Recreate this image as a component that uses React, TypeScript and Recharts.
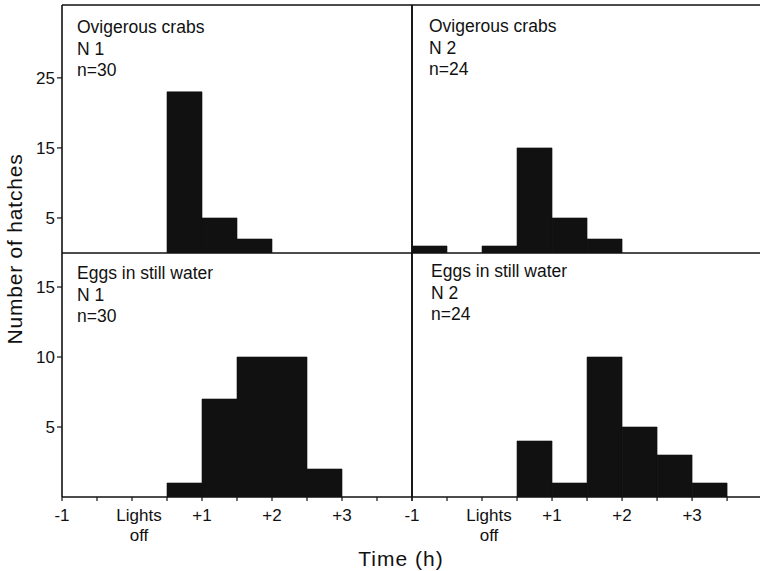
import React from 'react';
import { BarChart, Bar, XAxis, YAxis, ReferenceLine } from 'recharts';

// half-hour bins, start of each bin in hours relative to lights off
const binStarts = [-1, -0.5, 0, 0.5, 1, 1.5, 2, 2.5, 3, 3.5];
const ovigerousN1 = [0, 0, 0, 23, 5, 2, 0, 0, 0, 0];
const ovigerousN2 = [1, 0, 1, 15, 5, 2, 0, 0, 0, 0];
const stillWaterN1 = [0, 0, 0, 1, 7, 10, 10, 2, 0, 0];
const stillWaterN2 = [0, 0, 0, 4, 1, 10, 5, 3, 1, 0];

const timeTicks = [-1, -0.5, 0, 0.5, 1, 1.5, 2, 2.5, 3, 3.5, 4];
const tickNames: Record<string, string[]> = {
	'-1': ['-1'],
	'0': ['Lights', 'off'],
	'1': ['+1'],
	'2': ['+2'],
	'3': ['+3'],
};
const topYTicks = [5, 15, 25];
const bottomYTicks = [5, 10, 15];

const FONT = '"Liberation Sans", Arial, sans-serif';
const INK = '#111';

const toRows = (counts: number[]) => binStarts.map((s, i) => ({ mid: s + 0.25, count: counts[i] }));

const TimeTick = (props: any) => {
	const { x, y, payload } = props;
	const lines = tickNames[String(payload.value)];
	if (!lines) return null;
	const shift = lines.length > 1 ? 7 : 0;
	return (
		<text x={x + shift} y={y} textAnchor="middle" fontSize={17} fontFamily={FONT} fill={INK}>
			{lines.map((l, i) => (
				<tspan key={i} x={x + shift} dy={i === 0 ? 18 : 20}>{l}</tspan>
			))}
		</text>
	);
};

interface PanelProps {
	counts: number[];
	left: number;
	top: number;
	width: number;
	height: number;
	isLeft: boolean;
	isBottom: boolean;
}

const Panel = ({ counts, left, top, width, height, isLeft, isBottom }: PanelProps) => {
	const yMax = isBottom ? 17.43 : 35.4;
	const xMax = isLeft ? 4 : 3.97;
	return (
		<div style={{ position: 'absolute', left, top }}>
			<BarChart
				width={width}
				height={height}
				data={toRows(counts)}
				barCategoryGap={0}
				margin={{ top: isBottom ? 7 : 5, right: isLeft ? 8 : 0, bottom: isBottom ? 0 : 7, left: isLeft ? 0 : 8 }}
			>
				<XAxis
					dataKey="mid"
					type="number"
					domain={[-1, xMax]}
					allowDataOverflow
					ticks={timeTicks.filter((t) => t <= xMax)}
					interval={0}
					height={isBottom ? 74 : 0}
					tick={isBottom ? <TimeTick /> : false}
					tickSize={isBottom ? 4 : 0}
					axisLine={{ stroke: INK, strokeWidth: 1.6 }}
					tickLine={{ stroke: INK, strokeWidth: 1.2 }}
				/>
				<YAxis
					type="number"
					domain={[0, yMax]}
					allowDataOverflow
					ticks={isLeft ? (isBottom ? bottomYTicks : topYTicks) : []}
					width={isLeft ? 62 : 0}
					hide={!isLeft}
					tick={{ fontSize: 17, fontFamily: FONT, fill: INK }}
					tickSize={5}
					axisLine={{ stroke: INK, strokeWidth: 1.6 }}
					tickLine={{ stroke: INK, strokeWidth: 1.2 }}
				/>
				<ReferenceLine y={yMax} stroke={INK} strokeWidth={1.6} ifOverflow="visible" />
				<ReferenceLine x={isLeft ? 4 : -1} stroke={INK} strokeWidth={1.6} ifOverflow="visible" />
				<Bar dataKey="count" fill={INK} stroke={INK} strokeWidth={0.6} isAnimationActive={false} />
			</BarChart>
		</div>
	);
};

const Notes = ({ x, y, lines }: { x: number; y: number; lines: string[] }) => (
	<text x={x} y={y} fontSize={17.5} fontFamily={FONT} fill={INK}>
		{lines.map((l, i) => (
			<tspan key={i} x={x} dy={i === 0 ? 0 : 21.5}>{l}</tspan>
		))}
	</text>
);

export default function App() {
	return (
		<div style={{ position: 'absolute', left: 0, top: 0, width: 760, height: 571, background: '#fff', overflow: 'hidden' }}>
			<Panel counts={ovigerousN1} left={0} top={0} width={420} height={260} isLeft isBottom={false} />
			<Panel counts={ovigerousN2} left={404} top={0} width={356} height={260} isLeft={false} isBottom={false} />
			<Panel counts={stillWaterN1} left={0} top={246} width={420} height={325} isLeft isBottom />
			<Panel counts={stillWaterN2} left={404} top={246} width={356} height={325} isLeft={false} isBottom />
			<svg width={760} height={571} style={{ position: 'absolute', left: 0, top: 0, pointerEvents: 'none' }}>
				<Notes x={77} y={33} lines={['Ovigerous crabs', 'N 1', 'n=30']} />
				<Notes x={429} y={32} lines={['Ovigerous crabs', 'N 2', 'n=24']} />
				<Notes x={77} y={279} lines={['Eggs in still water', 'N 1', 'n=30']} />
				<Notes x={431} y={277} lines={['Eggs in still water', 'N 2', 'n=24']} />
				<text x={22} y={249} transform="rotate(-90 22 249)" textAnchor="middle" fontSize={21} letterSpacing={0.8} fontFamily={FONT} fill={INK}>
					Number of hatches
				</text>
				<text x={401} y={566} textAnchor="middle" fontSize={21} letterSpacing={1} fontFamily={FONT} fill={INK}>
					Time (h)
				</text>
			</svg>
		</div>
	);
}
